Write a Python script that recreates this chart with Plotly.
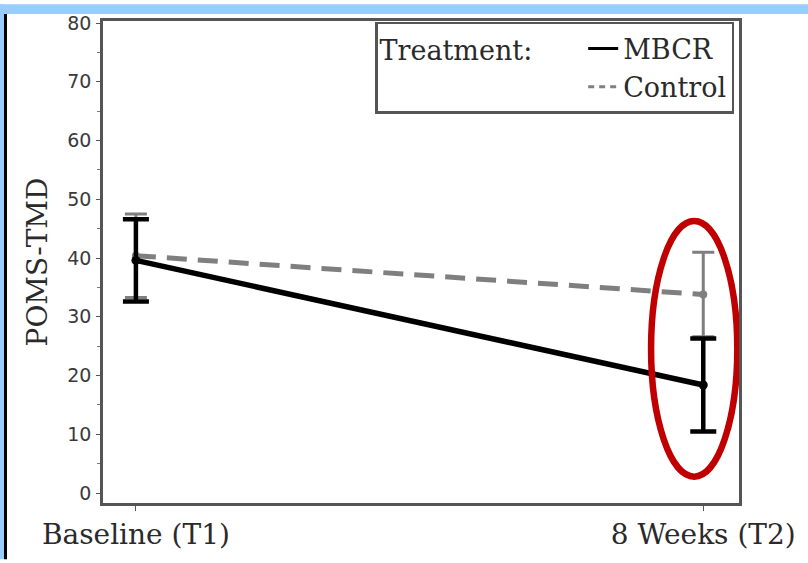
import plotly.graph_objects as go

# Time points and group summaries (mean ± error)
timepoints = ["Baseline (T1)", "8 Weeks (T2)"]
x_pos = [0, 1]
mbcr_mean = [39.6, 18.4]
mbcr_err = [7.0, 7.9]
control_mean = [40.4, 33.8]
control_err = [7.1, 7.2]
y_ticks = [0, 10, 20, 30, 40, 50, 60, 70, 80]

SERIF = "DejaVu Serif, serif"
TEXT = "#2a2a2a"

MBCR_LINE = dict(color="black", width=5.5)
CONTROL_LINE = dict(color="#7f7f7f", width=5, dash="20px,11px")

fig = go.Figure()

fig.add_trace(go.Scatter(
    x=x_pos, y=control_mean, name="Control", mode="lines+markers",
    line=CONTROL_LINE, marker=dict(color="#7f7f7f", size=8), showlegend=False,
    error_y=dict(type="data", array=control_err, color="#7f7f7f",
                 thickness=3, width=11),
))
fig.add_trace(go.Scatter(
    x=x_pos, y=mbcr_mean, name="MBCR", mode="lines+markers",
    line=MBCR_LINE, marker=dict(color="black", size=9), showlegend=False,
    error_y=dict(type="data", array=mbcr_err, color="black",
                 thickness=4.5, width=13),
))

# Line-only legend entries
fig.add_trace(go.Scatter(x=[None], y=[None], mode="lines", name="MBCR",
                         line=dict(color="black", width=3), legendgroup="a"))
fig.add_trace(go.Scatter(x=[None], y=[None], mode="lines", name="Control",
                         line=dict(color="#7f7f7f", width=3, dash="6px,5px"),
                         legendgroup="b"))

# Highlight ring around the 8-week comparison
fig.add_shape(type="circle", xref="x", yref="y",
              x0=x_pos[1] - 0.092, x1=x_pos[1] + 0.06, y0=2.8, y1=46.3,
              line=dict(color="#c00000", width=6.5), layer="above")

# Page decoration: blue top band, blue left strip and a dark rule
W, H = 808, 563
ML, MR, MT, MB = 103, 69, 17, 57
pw, ph = W - ML - MR, H - MT - MB
def px(xp): return (xp - ML) / pw
def py(yp): return 1 - (yp - MT) / ph
fig.add_shape(type="rect", xref="paper", yref="paper",
              x0=px(0), x1=px(W), y0=py(10), y1=py(0),
              fillcolor="#99ccff", line_width=0, layer="below")
fig.add_shape(type="rect", xref="paper", yref="paper",
              x0=px(0), x1=px(4), y0=py(H), y1=py(0),
              fillcolor="#99ccff", line_width=0, layer="below")
fig.add_shape(type="rect", xref="paper", yref="paper",
              x0=px(4), x1=px(7), y0=py(H), y1=py(10),
              fillcolor="black", line_width=0, layer="below")

fig.update_layout(
    width=W, height=H,
    margin=dict(l=ML, r=MR, t=MT, b=MB, pad=0),
    paper_bgcolor="white", plot_bgcolor="white",
    font=dict(family=SERIF, color=TEXT),
    showlegend=True,
    legend=dict(
        x=px(734), y=py(18), xanchor="right", yanchor="top",
        bgcolor="white", bordercolor="#555", borderwidth=2.5,
        title=dict(text="Treatment:     ", side="left",
                   font=dict(family=SERIF, size=27, color=TEXT)),
        font=dict(family=SERIF, size=27, color=TEXT),
        itemwidth=30, tracegroupgap=0,
    ),
    xaxis=dict(
        range=[-0.058, 1.063], tickvals=x_pos, ticktext=timepoints,
        showgrid=False, zeroline=False, showline=True, mirror=True,
        linecolor="#555", linewidth=2.5, ticks="outside", ticklen=5,
        tickcolor="#555", tickfont=dict(family=SERIF, size=28, color=TEXT),
    ),
    yaxis=dict(
        range=[-1.68, 80.34], tickvals=y_ticks,
        title=dict(text="POMS-TMD", font=dict(family=SERIF, size=28, color=TEXT),
                   standoff=12),
        showgrid=False, zeroline=False, showline=True, mirror=True,
        linecolor="#555", linewidth=2.5, ticks="outside", ticklen=4,
        tickcolor="#555", ticklabelstandoff=1,
        tickfont=dict(family="DejaVu Sans, sans-serif", size=19, color="#3a3a3a"),
        minor=dict(dtick=5, ticks="outside", ticklen=3, tickcolor="#777"),
    ),
)

fig.write_html("out.html")
